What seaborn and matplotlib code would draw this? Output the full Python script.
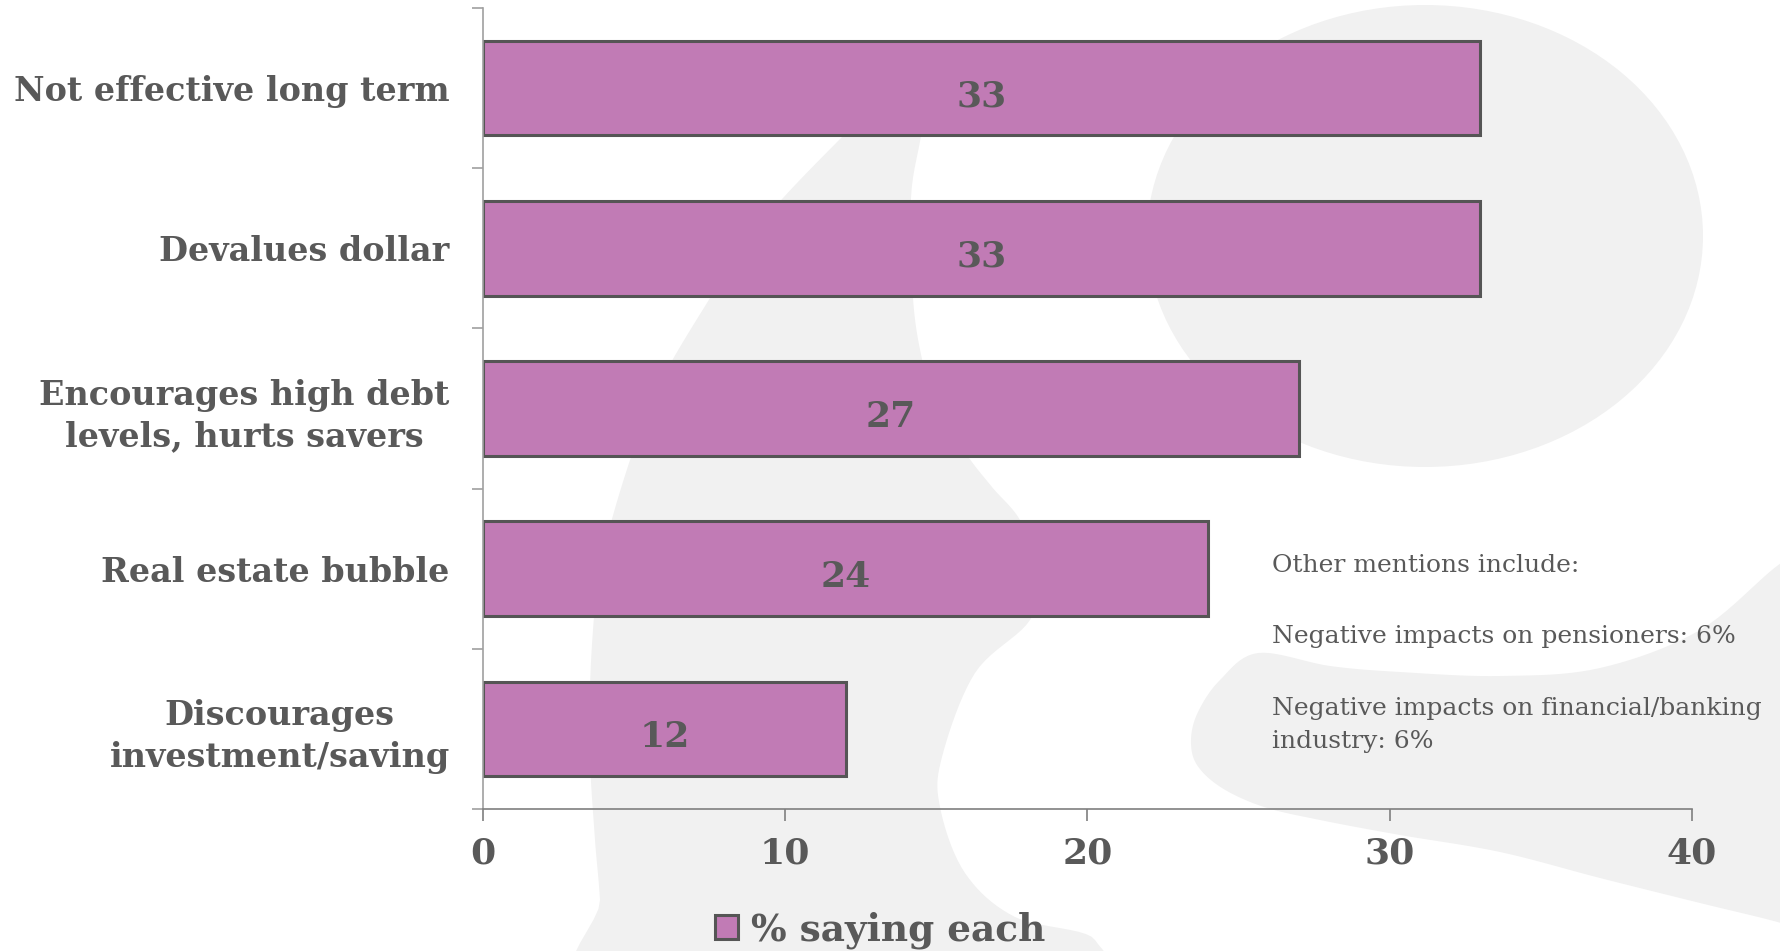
import matplotlib
matplotlib.use('Agg')
import numpy as np
import matplotlib.pyplot as plt
from matplotlib.patches import Polygon, Ellipse
from matplotlib.ticker import FixedLocator
import seaborn as sns
import pandas as pd

# data
categories = ['Not effective long term',
              'Devalues dollar',
              'Encourages high debt\nlevels, hurts savers',
              'Real estate bubble',
              'Discourages\ninvestment/saving']
values = [33, 33, 27, 24, 12]
series_name = '% saying each'
x_ticks = [0, 10, 20, 30, 40]
other_mentions = ['Other mentions include:',
                  'Negative impacts on pensioners: 6%',
                  'Negative impacts on financial/banking\nindustry: 6%']

W, H = 1781, 951
BAR = '#c17bb5'
EDGE = '#555555'
TXT = '#595959'
BG_SHAPE = '#f1f1f1'

sns.set_style('white')
plt.rcParams['font.family'] = ['DejaVu Serif']

fig = plt.figure(figsize=(W / 100, H / 100), dpi=100)


def px(x, y):
    # pixel position -> figure fraction
    return (x / W, 1 - y / H)


def smooth(pts, n=10):
    # closed catmull-rom curve through the outline points
    p = np.array(pts, float)
    out = []
    for i in range(len(p)):
        p0, p1, p2, p3 = p[i - 1], p[i], p[(i + 1) % len(p)], p[(i + 2) % len(p)]
        for t in np.linspace(0, 1, n, endpoint=False):
            out.append(0.5 * (2 * p1 + (p2 - p0) * t
                              + (2 * p0 - 5 * p1 + 4 * p2 - p3) * t ** 2
                              + (3 * p1 - p0 - 3 * p2 + p3) * t ** 3))
    return [px(*q) for q in out]


# light grey watermark glyph behind the chart
band = [(920, 60), (880, 100), (844, 135), (783, 198), (740, 250), (710, 298),
        (673, 359), (650, 405), (631, 457), (612, 519), (600, 570), (594, 617),
        (590, 687), (590, 760), (595, 840), (600, 900), (605, 1000), (1060, 990),
        (1095, 940), (1015, 917), (965, 873), (940, 807), (942, 757), (975, 673),
        (1030, 620), (1040, 570), (1020, 520), (992, 487), (965, 452), (935, 400),
        (922, 359), (913, 298), (911, 198), (921, 135), (925, 90)]
tail = [(1258, 653), (1330, 666), (1400, 672), (1500, 676), (1600, 668),
        (1700, 630), (1781, 563), (1830, 540), (1830, 940), (1781, 923),
        (1700, 903), (1600, 878), (1500, 852), (1400, 835), (1320, 820),
        (1264, 807), (1222, 788), (1197, 765), (1191, 740), (1198, 712),
        (1220, 680)]
for pts in (band, tail):
    fig.patches.append(Polygon(smooth(pts), closed=True,
                               facecolor=BG_SHAPE, edgecolor='none',
                               transform=fig.transFigure, zorder=-1))
fig.patches.append(Ellipse(px(1425, 236), 556 / W, 462 / H,
                           facecolor=BG_SHAPE, edgecolor='none',
                           transform=fig.transFigure, zorder=-1))

ax = fig.add_axes([483 / W, 1 - 809 / H, (1692 - 483) / W, (809 - 8) / H])
ax.set_facecolor('none')

df = pd.DataFrame({'category': categories, 'value': values,
                   'series': series_name})
sns.barplot(data=df, x='value', y='category', hue='series', orient='h',
            palette=[BAR], edgecolor=EDGE, linewidth=2.2, width=0.59,
            saturation=1, ax=ax)

for c in ax.containers:
    for t in ax.bar_label(c, label_type='center', fontsize=26,
                          fontweight='bold', color=TXT):
        t.xyann = (0, -6)

ax.set_xlim(0, 40)
ax.set_ylim(len(categories) - 0.5, -0.5)
ax.set_xticks(x_ticks)
ax.set_xticklabels([str(t) for t in x_ticks], fontsize=26,
                   fontweight='bold', color=TXT)
ax.set_yticks(range(len(categories)))
ax.set_yticklabels(categories, fontsize=24, fontweight='bold', color=TXT,
                   multialignment='center', linespacing=1.32)
ax.yaxis.set_minor_locator(FixedLocator([i - 0.5 for i in range(len(categories) + 1)]))
ax.tick_params(axis='y', which='major', length=0, pad=24)
ax.tick_params(axis='y', which='minor', length=8, width=1.2, color='#a0a0a0',
               direction='out', left=True)
ax.tick_params(axis='x', which='major', length=8.5, width=1.2, color='#7f7f7f',
               direction='out', pad=11, bottom=True)
ax.set_xlabel('')
ax.set_ylabel('')
for side in ('top', 'right'):
    ax.spines[side].set_visible(False)
ax.spines['left'].set_color('#a0a0a0')
ax.spines['left'].set_linewidth(1.2)
ax.spines['bottom'].set_color('#7f7f7f')
ax.spines['bottom'].set_linewidth(1.2)

handles, labels = ax.get_legend_handles_labels()
ax.get_legend().remove()
fig.legend(handles, labels, loc='center left',
           bbox_to_anchor=px(700, 930), frameon=False,
           prop={'size': 27, 'weight': 'bold'}, labelcolor=TXT,
           handlelength=0.62, handleheight=0.62, handletextpad=0.35,
           borderaxespad=0)

for line, y in zip(other_mentions, (566, 636, 725)):
    fig.text(*px(1272, y), line, fontsize=18, color=TXT, va='center',
             ha='left', linespacing=1.55)

fig.savefig('out.png', dpi=100)
